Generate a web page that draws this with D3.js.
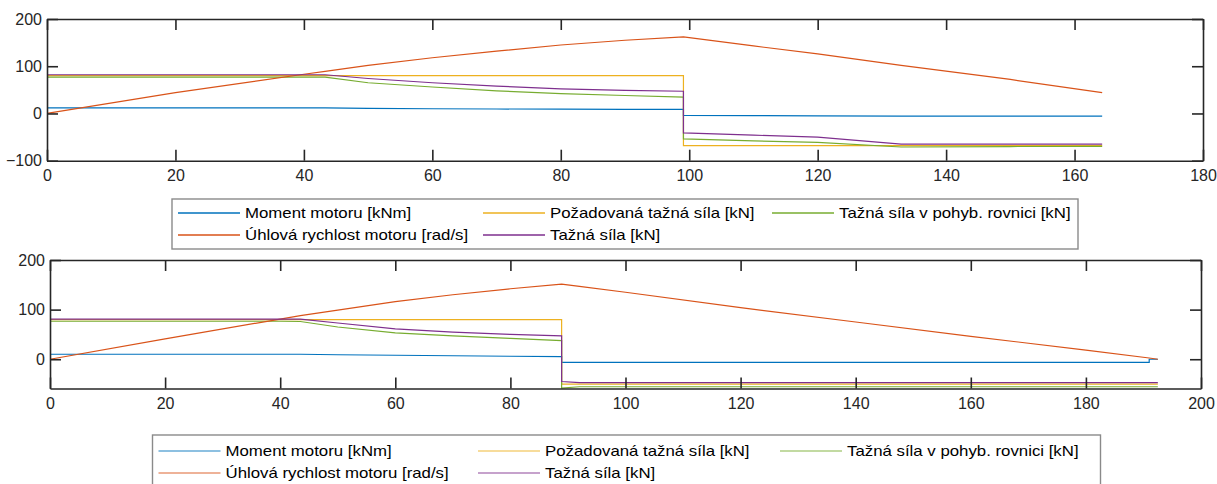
<!DOCTYPE html>
<html>
<head>
<meta charset="utf-8">
<script src="https://cdn.jsdelivr.net/npm/d3@7"></script>
<style>
  body { margin: 0; background: #fff; }
  svg { display: block; font-family: "Liberation Sans", Arial, Helvetica, sans-serif; }
  .tick text { font-size: 16px; fill: #262626; }
  .legend text { font-size: 15px; fill: #000; }
</style>
</head>
<body>
<div id="chart"></div>
<script>
// legend labels (same for both panels)
const seriesNames = [
  "Moment motoru [kNm]",
  "Požadovaná tažná síla [kN]",
  "Tažná síla v pohyb. rovnici [kN]",
  "Úhlová rychlost motoru [rad/s]",
  "Tažná síla [kN]"
];
const seriesColors = ["#0072BD", "#EDB120", "#77AC30", "#D95319", "#7E2F8E"];

// top panel data
const time1 = [0, 20, 40, 43.3, 50, 60, 70, 80, 90, 99.1, 99.1, 110, 120, 133, 150, 164.3];
const moment1 = [12, 12, 12, 12, 10.8, 10, 9.5, 9, 8.7, 8.5, -4.2, -4.6, -5, -5.7, -5.7, -5.7];
const pozad1 = [80, 80, 80, 80, 80, 80, 80, 80, 80, 80, -68, -68, -68, -68, -68, -68];
const pohyb1 = [77, 77, 77, 77, 65, 56, 48, 42, 38, 34.5, -53.7, -58, -61, -71, -70, -69.5];
const omega1 = [0, 44, 83, 89, 102, 118, 132, 145, 155, 162, 162, 143, 126, 102, 72, 44];
const tazna1 = [82, 82, 82, 82, 74, 65, 58, 52, 49, 47, -41, -46, -50, -65, -65, -65];

// bottom panel data
const time2 = [0, 20, 40, 43.5, 50, 60, 70, 80, 88.9, 88.9, 92, 100, 120, 140, 160, 180, 191, 191, 192.5];
const moment2 = [10, 10, 10, 10, 9, 8, 7, 6, 5.3, -6.5, -6.5, -6.5, -6.5, -6.5, -6.5, -6.5, -6.5, 0, 0];
const pozad2 = [80, 80, 80, 80, 80, 80, 80, 80, 80, -50, -50, -50, -50, -50, -50, -50, -50, -50, -50];
const pohyb2 = [76.5, 76.5, 76.5, 76, 65, 53, 47, 42, 37.5, -58, -55.5, -55.5, -55.5, -55.5, -55.5, -55.5, -55.5, -55.5, -55.5];
const omega2 = [0, 41, 81, 88, 99, 116, 130, 142, 151.5, 151.5, 147, 135, 104, 75, 46, 18.5, 2.5, 2.5, 0];
const tazna2 = [81, 81, 81, 81, 73, 61, 54.5, 50, 47, -45, -47, -47, -47, -47, -47, -47, -47, -47, -47];

// axis ticks
const xTicks1 = [0, 20, 40, 60, 80, 100, 120, 140, 160, 180];
const yTicks1 = [-100, 0, 100, 200];
const xTicks2 = [0, 20, 40, 60, 80, 100, 120, 140, 160, 180, 200];
const yTicks2 = [0, 100, 200];

const width = 1217, height = 484;
const svg = d3.select("#chart").append("svg")
  .attr("width", width).attr("height", height)
  .attr("viewBox", [0, 0, width, height]);

function drawPanel(p) {
  const x = d3.scaleLinear().domain(p.xDomain).range([p.left, p.right]);
  const y = d3.scaleLinear().domain(p.yDomain).range([p.bottom, p.top]);
  const g = svg.append("g");

  const line = d3.line().x((d) => x(d[0])).y((d) => y(d[1]));
  // draw series in plot order: moment, pozad, pohyb, omega, tazna
  p.series.forEach((vals, i) => {
    g.append("path")
      .attr("fill", "none")
      .attr("stroke", seriesColors[i])
      .attr("stroke-width", 1.2)
      .attr("d", line(p.time.map((t, k) => [t, vals[k]])));
  });

  const styleAxis = (a) => {
    a.select(".domain").attr("stroke", "#262626").attr("stroke-width", 1.6);
    a.selectAll(".tick line").attr("stroke", "#262626").attr("stroke-width", 1.6);
  };
  g.append("g").attr("transform", `translate(0,${p.bottom})`)
    .call(d3.axisBottom(x).tickValues(p.xTicks).tickSize(-11).tickSizeOuter(0).tickPadding(9))
    .call(styleAxis);
  g.append("g").attr("transform", `translate(0,${p.top})`)
    .call(d3.axisTop(x).tickValues(p.xTicks).tickSize(-11).tickSizeOuter(0).tickFormat(""))
    .call(styleAxis);
  g.append("g").attr("transform", `translate(${p.left},0)`)
    .call(d3.axisLeft(y).tickValues(p.yTicks).tickSize(-11).tickSizeOuter(0).tickPadding(5))
    .call(styleAxis);
  g.append("g").attr("transform", `translate(${p.right},0)`)
    .call(d3.axisRight(y).tickValues(p.yTicks).tickSize(-11).tickSizeOuter(0).tickFormat(""))
    .call(styleAxis);
  svg.selectAll(".tick text").attr("font-size", null).attr("font-family", null);

  // legend
  const lg = svg.append("g").attr("class", "legend");
  lg.append("rect")
    .attr("x", p.legend.x).attr("y", p.legend.y)
    .attr("width", p.legend.w).attr("height", p.legend.h)
    .attr("fill", "#fff").attr("stroke", "#8a8a8a").attr("stroke-width", 1.4);
  seriesNames.forEach((name, i) => {
    const col = i % 3, row = Math.floor(i / 3);
    const lx = p.legend.cols[col], ly = p.legend.rows[row];
    lg.append("line")
      .attr("x1", lx).attr("x2", lx + 62).attr("y1", ly).attr("y2", ly)
      .attr("stroke", seriesColors[i]).attr("stroke-width", 1.4)
      .attr("stroke-opacity", p.legend.opacity);
    const t = lg.append("text")
      .attr("x", lx + 67).attr("y", ly).attr("dy", "0.35em")
      .text(name);
    // reference legend text is a bit wider than the font renders here
    const len = t.node().getComputedTextLength();
    t.attr("textLength", len * 1.12).attr("lengthAdjust", "spacingAndGlyphs");
  });
}

drawPanel({
  xDomain: [0, 180], yDomain: [-100, 200],
  left: 47, right: 1203, top: 19, bottom: 160.7,
  xTicks: xTicks1, yTicks: yTicks1,
  time: time1,
  series: [moment1, pozad1, pohyb1, omega1, tazna1],
  legend: { x: 172, y: 199, w: 906, h: 50, cols: [178, 483, 772], rows: [213, 235], opacity: 1 }
});

drawPanel({
  xDomain: [0, 200], yDomain: [-59, 200],
  left: 50, right: 1201, top: 260, bottom: 388.5,
  xTicks: xTicks2, yTicks: yTicks2,
  time: time2,
  series: [moment2, pozad2, pohyb2, omega2, tazna2],
  legend: { x: 152.5, y: 435, w: 948, h: 70, cols: [158.5, 478, 780], rows: [451, 473], opacity: 0.6 }
});
</script>
</body>
</html>
